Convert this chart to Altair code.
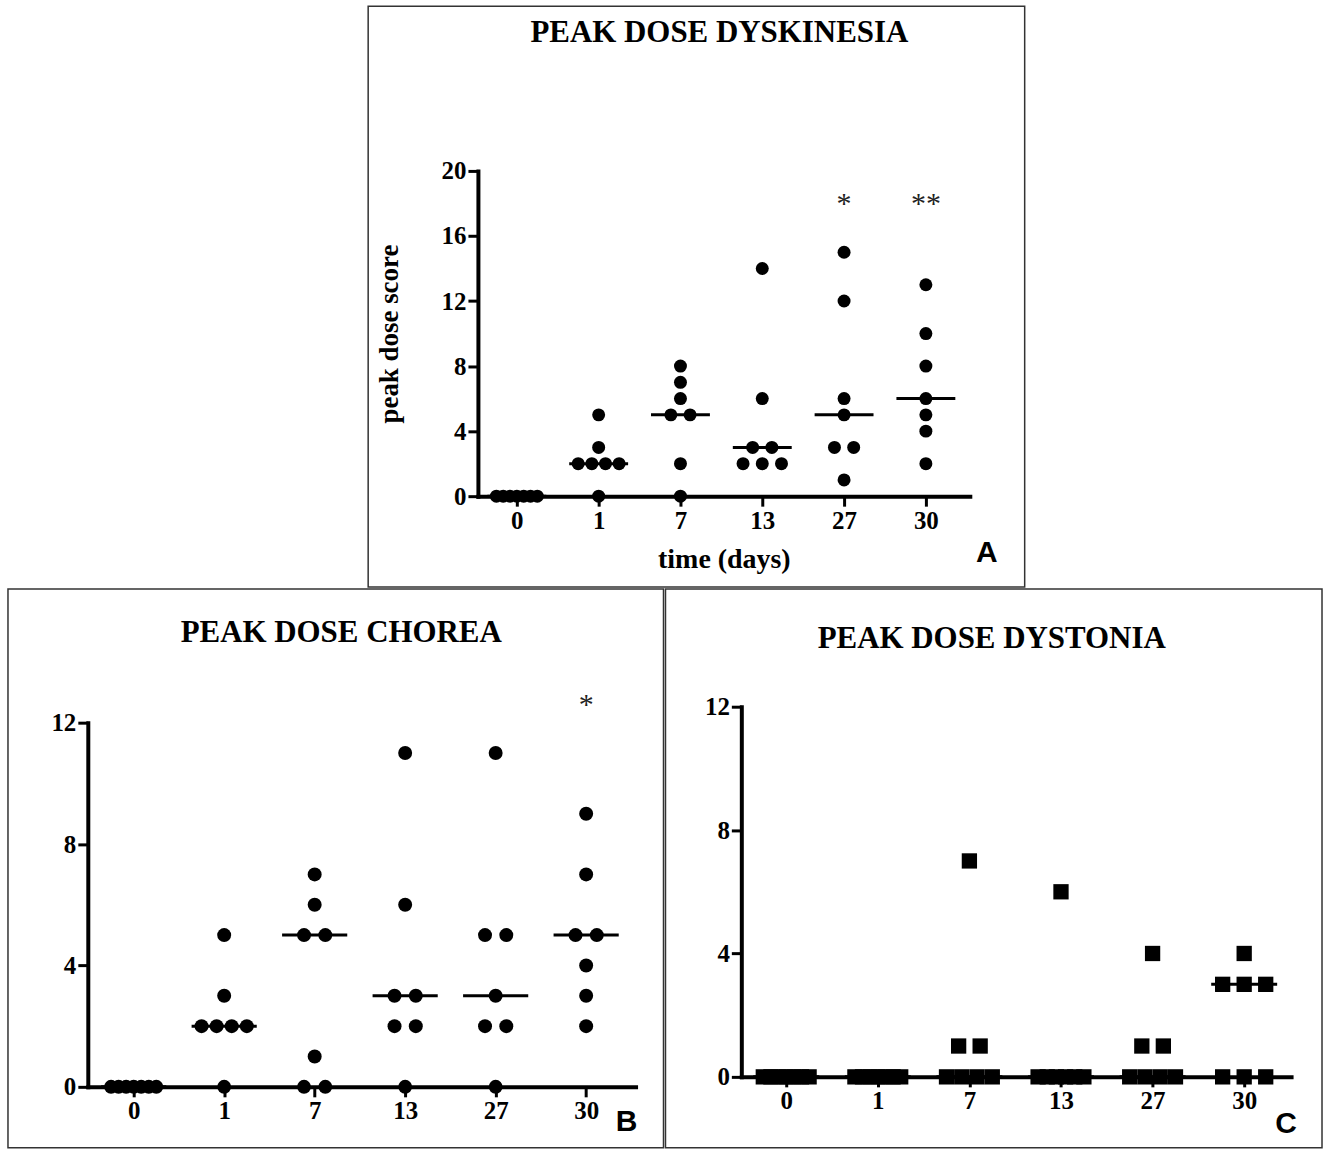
import altair as alt
import numpy as np
import pandas as pd
from collections import Counter

# ---------------- data ----------------
days = ["0", "1", "7", "13", "27", "30"]

dyskinesia = [
    [0, 0, 0, 0, 0, 0, 0],
    [5, 3, 2, 2, 2, 2, 0],
    [8, 7, 6, 5, 5, 2, 0],
    [14, 6, 3, 3, 2, 2, 2],
    [15, 12, 6, 5, 3, 3, 1],
    [13, 10, 8, 6, 5, 4, 2],
]
chorea = [
    [0, 0, 0, 0, 0, 0, 0],
    [5, 3, 2, 2, 2, 2, 0],
    [7, 6, 5, 5, 1, 0, 0],
    [11, 6, 3, 3, 2, 2, 0],
    [11, 5, 5, 3, 2, 2, 0],
    [9, 7, 5, 5, 4, 3, 2],
]
dystonia = [
    [0, 0, 0, 0, 0, 0, 0],
    [0, 0, 0, 0, 0, 0, 0],
    [7, 1, 1, 0, 0, 0, 0],
    [6, 0, 0, 0, 0, 0, 0],
    [4, 1, 1, 0, 0, 0, 0],
    [4, 3, 3, 3, 0, 0, 0],
]

dyskinesia_stars = ["", "", "", "", "*", "**"]
chorea_stars = ["", "", "", "", "", "*"]
dystonia_stars = ["", "", "", "", "", ""]
dyskinesia_star_level = 18.4
chorea_star_level = 12.8

label_expr = "[" + ",".join("'%s'" % d for d in days) + "][datum.value]"

SERIF = "Liberation Serif"
SANS = "Liberation Sans"


def points_frame(groups, spacing=0.235, spread=0.5):
    rows = []
    for gi, vals in enumerate(groups):
        counts = Counter(vals)
        seen = Counter()
        for v in vals:
            k = counts[v]
            step = min(spacing, spread / (k - 1)) if k > 1 else 0.0
            off = (seen[v] - (k - 1) / 2.0) * step
            seen[v] += 1
            rows.append({"day": days[gi], "xpos": gi + off, "score": v})
    return pd.DataFrame(rows)


def median_frame(groups, half=0.36):
    rows = []
    for gi, vals in enumerate(groups):
        rows.append({"day": days[gi], "xpos": gi - half, "xend": gi + half,
                     "score": float(np.median(vals))})
    return pd.DataFrame(rows)


def star_frame(stars, level):
    rows = [{"xpos": gi, "score": level, "label": s} for gi, s in enumerate(stars) if s]
    return pd.DataFrame(rows, columns=["xpos", "score", "label"])


def panel(groups, stars, star_level, title, letter, shape, size,
          w, h, xpx, xdom, ypx, ydom, yticks, title_xy, letter_xy,
          xtitle=None, ytitle=None):
    xscale = alt.Scale(domain=xdom, range=xpx, nice=False, zero=False)
    yscale = alt.Scale(domain=ydom, range=ypx, nice=False, zero=False)
    xaxis_kw = dict(values=list(range(len(days))), labelExpr=label_expr,
                    offset=ypx[0] - h, labelFlush=False, labelOverlap=False,
                    labelPadding=2)
    yaxis_kw = dict(values=yticks, offset=-xpx[0], labelFlush=False,
                    labelOverlap=False, labelPadding=2)
    if xtitle:
        xaxis_kw.update(title=xtitle, titlePadding=12, titleFontSize=28)
    else:
        xaxis_kw.update(title="")
    if ytitle:
        yaxis_kw.update(title=ytitle, titlePadding=38, titleFontSize=27)
    else:
        yaxis_kw.update(title="")
    xaxis = alt.Axis(**xaxis_kw)
    yaxis = alt.Axis(**yaxis_kw)

    pts = alt.Chart(points_frame(groups)).mark_point(
        shape=shape, filled=True, color="black", opacity=1, size=size
    ).encode(
        x=alt.X("xpos:Q", scale=xscale, axis=xaxis),
        y=alt.Y("score:Q", scale=yscale, axis=yaxis),
    )
    med = alt.Chart(median_frame(groups)).mark_rule(
        color="black", strokeWidth=3
    ).encode(
        x=alt.X("xpos:Q", scale=xscale, axis=xaxis),
        x2="xend:Q",
        y=alt.Y("score:Q", scale=yscale, axis=yaxis),
    )
    layers = [pts, med]
    sf = star_frame(stars, star_level)
    if len(sf):
        st = alt.Chart(sf).mark_text(
            font=SERIF, fontSize=30, color="#222222", baseline="middle", dy=7
        ).encode(
            x=alt.X("xpos:Q", scale=xscale, axis=xaxis),
            y=alt.Y("score:Q", scale=yscale, axis=yaxis),
            text="label:N",
        )
        layers.append(st)
    one = alt.Data(values=[{"a": 1}])
    ttl = alt.Chart(one).mark_text(
        text=title, font=SERIF, fontWeight="bold", fontSize=31, color="black",
        align="center", baseline="alphabetic"
    ).encode(x=alt.value(title_xy[0]), y=alt.value(title_xy[1]))
    let = alt.Chart(one).mark_text(
        text=letter, font=SANS, fontWeight="bold", fontSize=30, color="black",
        align="center", baseline="alphabetic"
    ).encode(x=alt.value(letter_xy[0]), y=alt.value(letter_xy[1]))
    layers += [ttl, let]
    return alt.layer(*layers).properties(width=w, height=h)


panel_a = panel(dyskinesia, dyskinesia_stars, dyskinesia_star_level,
                "PEAK DOSE DYSKINESIA", "A", "circle", 169,
                658, 582, [110, 603], [-0.476, 5.537], [491, 165], [0, 20],
                [0, 4, 8, 12, 16, 20], (352, 36), (620, 557),
                xtitle="time (days)", ytitle="peak dose score")

panel_b = panel(chorea, chorea_stars, chorea_star_level,
                "PEAK DOSE CHOREA", "B", "circle", 196,
                657, 560, [80, 629], [-0.507, 5.546], [499, 134], [0, 12],
                [0, 4, 8, 12], (334, 53), (620, 543))

panel_c = panel(dystonia, dystonia_stars, 0,
                "PEAK DOSE DYSTONIA", "C", "square", 235,
                658, 560, [76, 627], [-0.49, 5.512], [489, 118], [0, 12],
                [0, 4, 8, 12], (327, 59), (622, 545))

spacer = alt.Chart(alt.Data(values=[{"a": 1}])).mark_point(
    opacity=0, size=1, strokeWidth=0
).encode(
    x=alt.value(150), y=alt.value(150)
).properties(width=359, height=582,
             view=alt.ViewBackground(stroke="transparent"))

top = alt.hconcat(spacer, panel_a, spacing=0)
bottom = alt.hconcat(panel_b, panel_c, spacing=0)

chart = alt.vconcat(top, bottom, spacing=0).properties(
    padding={"left": 7, "top": 4, "right": 2, "bottom": 3},
    background="white",
).configure_view(
    stroke="#333333", strokeWidth=1.5
).configure_axis(
    grid=False,
    domainColor="black", domainWidth=4, domainCap="square",
    tickColor="black", tickWidth=3, tickSize=10,
    labelFont=SERIF, labelFontWeight="bold", labelFontSize=25, labelColor="black",
    titleFont=SERIF, titleFontWeight="bold", titleColor="black",
)

chart.save("out.html", embed_options={"renderer": "svg", "actions": False})
